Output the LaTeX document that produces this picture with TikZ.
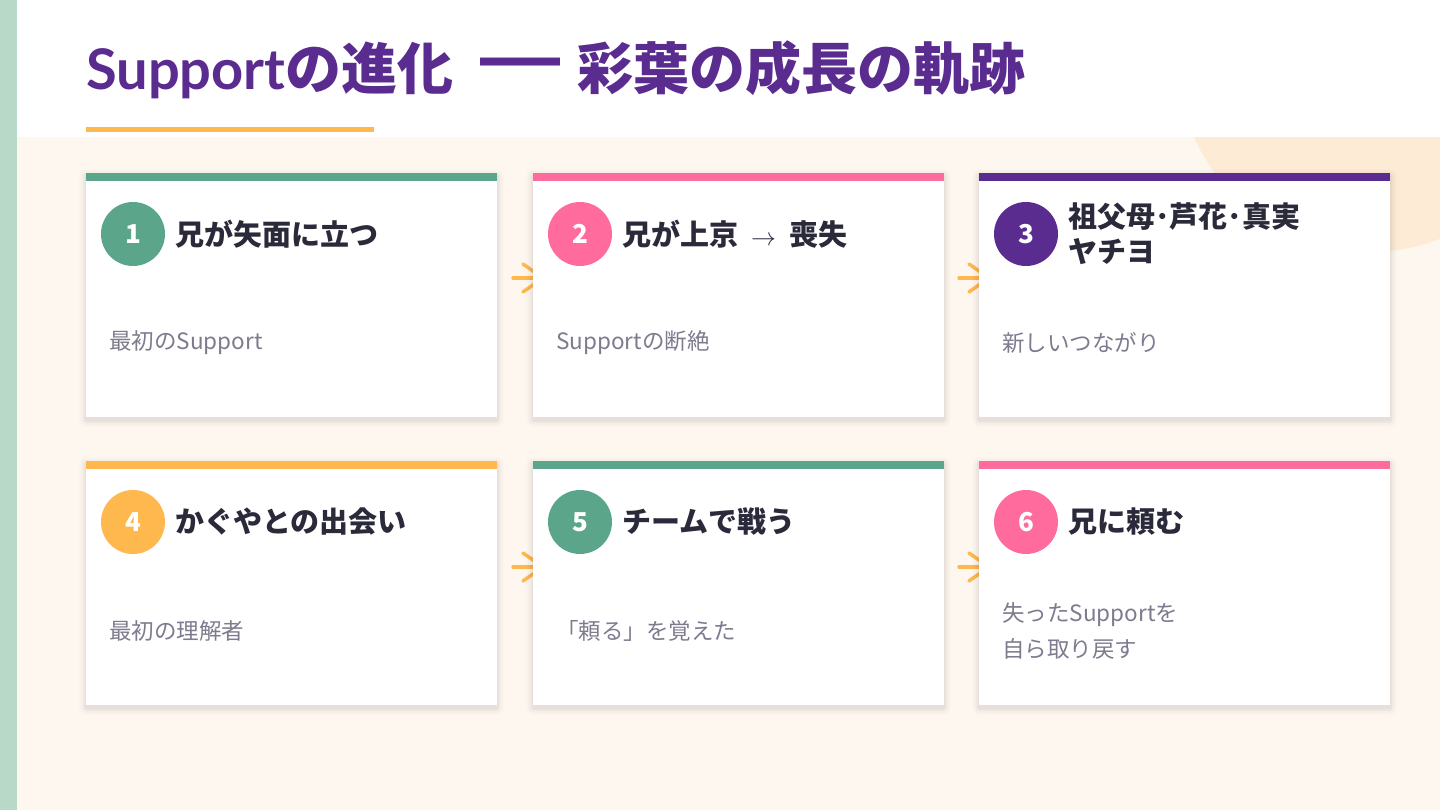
\documentclass[tikz,border=0pt]{standalone}
\usepackage{fontspec}
\setmainfont{Noto Sans CJK JP}
\newfontfamily\latinsans{Liberation Sans}
\newfontfamily\latofont{Lato}
\usetikzlibrary{arrows.meta,calc}
\definecolor{cgreen}{HTML}{5BA68A}
\definecolor{cpink}{HTML}{FF6B9D}
\definecolor{cpurple}{HTML}{5B2C8F}
\definecolor{corange}{HTML}{FFB84D}
\definecolor{cdark}{HTML}{2B2A3A}
\definecolor{cgray}{HTML}{7E7B8E}
\definecolor{ccream}{HTML}{FEF7F0}
\definecolor{cdeco}{HTML}{FDEBD6}
\definecolor{cleft}{HTML}{B8D8C8}
\tikzset{
  cardbox/.style={anchor=north west, fill=white, inner sep=0pt, minimum width=411pt, minimum height=244pt},
  numcirc/.style={circle, inner sep=0pt, minimum size=64pt, text=white, font=\bfseries\fontsize{26}{30}\selectfont},
  cardtitle/.style={anchor=west, inner sep=0pt, text=cdark, align=left, font=\bfseries\fontsize{29}{35}\selectfont},
  cardsub/.style={anchor=west, inner sep=0pt, text=cgray, align=left, font=\fontsize{22.5}{36}\selectfont},
  titletext/.style={anchor=base west, inner sep=0pt, text=cpurple, font=\bfseries\fontsize{56}{60}\selectfont},
  flowarrow/.style={draw=corange, line width=3.5pt, line cap=round, -{Straight Barb[length=20pt,width=28pt,line cap=round]}},
}
\newcommand\thinarrow{\hspace{13pt}$\rightarrow$\hspace{13pt}}
\newcommand\stepcard[7]{%
  \foreach \s/\o in {7/0.012,5/0.018,3/0.025,1.5/0.035}{
    \fill[black, opacity=\o, rounded corners=\s pt] (#2-\s,#3-\s+3) rectangle (#2+411+\s,#3+244+\s+3);
  }
  \node[cardbox] (#1) at (#2,#3) {};
  \fill[#4] (#1.north west) rectangle ($(#1.north east)+(0,8)$);
  \node[numcirc, fill=#4] (#1n) at ($(#1.north west)+(47,61)$) {#5};
  \node[cardtitle] (#1t) at ($(#1.north west)+(89,61)$) {#6};
  \node[cardsub] (#1s) at ($(#1.north west)+(23,170)$) {#7};
}
\begin{document}
\begin{tikzpicture}[x=1pt,y=-1pt]
\useasboundingbox (0,0) rectangle (1440,810);
\fill[ccream] (0,0) rectangle (1440,810);
\begin{scope}
  \clip (17,137) rectangle (1440,810);
  \fill[cdeco] (1370,60) circle (192);
\end{scope}
\fill[white] (17,0) rectangle (1440,137);
\fill[cleft] (0,0) rectangle (17,810);
\node[titletext] (title1) at (86,90) {{\latofont\bfseries Support}の進化};
\node[inner sep=0pt, text=cpurple] (titledash) at (520,71) {\scalebox{0.5}[1]{\latinsans\bfseries\fontsize{80}{80}\selectfont ——}};
\node[titletext] (title2) at (577,90) {彩葉の成長の軌跡};
\fill[corange] (86,127) rectangle (374,132);
% arrows (partly hidden behind the cards)
\coordinate (a12s) at (513,278); \coordinate (a12e) at (546,278);
\coordinate (a23s) at (959,278); \coordinate (a23e) at (992,278);
\coordinate (a45s) at (513,567); \coordinate (a45e) at (546,567);
\coordinate (a56s) at (959,567); \coordinate (a56e) at (992,567);
\draw[flowarrow] (a12s) -- (a12e);
\draw[flowarrow] (a23s) -- (a23e);
\draw[flowarrow] (a45s) -- (a45e);
\draw[flowarrow] (a56s) -- (a56e);
\stepcard{c1}{86}{173}{cgreen}{1}{兄が矢面に立つ}{最初のSupport}
\stepcard{c2}{533}{173}{cpink}{2}{兄が上京\thinarrow 喪失}{Supportの断絶}
\stepcard{c3}{979}{173}{cpurple}{3}{祖父母･芦花･真実\\ヤチヨ}{新しいつながり}
\stepcard{c4}{86}{461}{corange}{4}{かぐやとの出会い}{最初の理解者}
\stepcard{c5}{533}{461}{cgreen}{5}{チームで戦う}{「頼る」を覚えた}
\stepcard{c6}{979}{461}{cpink}{6}{兄に頼む}{失ったSupportを\\自ら取り戻す}
\end{tikzpicture}
\end{document}
